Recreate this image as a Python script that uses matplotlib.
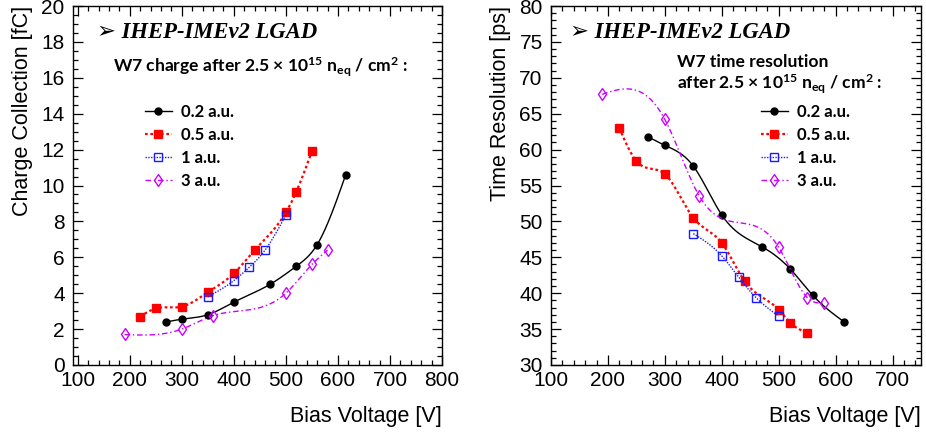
import numpy as np
import matplotlib
matplotlib.use('Agg')
import matplotlib.pyplot as plt
from matplotlib.ticker import MultipleLocator

plt.rcParams['font.family'] = ['Liberation Sans', 'DejaVu Sans']
plt.rcParams['mathtext.fontset'] = 'custom'
plt.rcParams['mathtext.rm'] = 'Lato:bold'
plt.rcParams['mathtext.it'] = 'Lato:bold'
plt.rcParams['mathtext.bf'] = 'Lato:bold'

# --- data ---
labels = ['0.2 a.u.', '0.5 a.u.', '1 a.u.', '3 a.u.']

v_02 = [270, 300, 350, 400, 470, 520, 560, 615]
v_05 = [220, 250, 300, 350, 400, 440, 500, 520, 550]
v_1 = [350, 400, 430, 460, 500]
v_3 = [190, 300, 360, 500, 550, 580]

q_02 = [2.4, 2.55, 2.8, 3.5, 4.5, 5.5, 6.7, 10.6]
q_05 = [2.7, 3.15, 3.25, 4.05, 5.1, 6.4, 8.5, 9.65, 11.9]
q_1 = [3.8, 4.7, 5.45, 6.4, 8.35]
q_3 = [1.7, 2.0, 2.75, 4.0, 5.6, 6.4]

t_02 = [61.8, 60.6, 57.7, 50.9, 46.5, 43.4, 39.7, 36.0]
t_05 = [63.0, 58.4, 56.6, 50.5, 47.0, 41.7, 37.7, 35.9, 34.5]
t_1 = [48.3, 45.2, 42.2, 39.4, 36.8]
t_3 = [67.7, 64.2, 53.6, 46.4, 39.4, 38.6]

# styles per series
styles = [
    dict(color='black', ls='-', marker='o', ms=5, mfc='black', lw=1.0),
    dict(color='#ff0000', ls=(0, (1.2, 1.2)), marker='s', ms=6, mfc='#ff0000', lw=1.6),
    dict(color='#1a1aff', ls=(0, (1, 1)), marker='s', ms=6, mfc='none', lw=1.0),
    dict(color='#cc00ff', ls=(0, (4, 2, 1, 2)), marker='d', ms=6.5, mfc='none', lw=1.0),
]


def spline(x, y, n=300):
    # natural cubic spline, mimics the smooth ROOT "C" curves
    x = np.asarray(x, float)
    y = np.asarray(y, float)
    k = len(x)
    h = np.diff(x)
    A = np.zeros((k, k))
    b = np.zeros(k)
    A[0, 0] = A[-1, -1] = 1
    for i in range(1, k - 1):
        A[i, i - 1] = h[i - 1]
        A[i, i] = 2 * (h[i - 1] + h[i])
        A[i, i + 1] = h[i]
        b[i] = 6 * ((y[i + 1] - y[i]) / h[i] - (y[i] - y[i - 1]) / h[i - 1])
    M = np.linalg.solve(A, b)
    xs = np.linspace(x[0], x[-1], n)
    idx = np.clip(np.searchsorted(x, xs) - 1, 0, k - 2)
    x0, x1, hh = x[idx], x[idx + 1], h[idx]
    ys = (M[idx] * (x1 - xs) ** 3 / (6 * hh) + M[idx + 1] * (xs - x0) ** 3 / (6 * hh)
          + (y[idx] / hh - M[idx] * hh / 6) * (x1 - xs)
          + (y[idx + 1] / hh - M[idx + 1] * hh / 6) * (xs - x0))
    return xs, ys


def draw(ax, series):
    handles = []
    for (x, y), st, lab in zip(series, styles, labels):
        xs, ys = spline(x, y)
        ax.plot(xs, ys, color=st['color'], ls=st['ls'], lw=st['lw'])
        ax.plot(x, y, ls='none', marker=st['marker'], ms=st['ms'],
                mfc=st['mfc'], mec=st['color'], mew=1.0)
        h, = ax.plot([], [], color=st['color'], ls=st['ls'], lw=st['lw'],
                     marker=st['marker'], ms=st['ms'], mfc=st['mfc'],
                     mec=st['color'], mew=1.0)
        handles.append(h)
    return handles


def style_axes(ax, xmaj, xmin, ymaj, ymin):
    ax.xaxis.set_major_locator(MultipleLocator(xmaj))
    ax.xaxis.set_minor_locator(MultipleLocator(xmin))
    ax.yaxis.set_major_locator(MultipleLocator(ymaj))
    ax.yaxis.set_minor_locator(MultipleLocator(ymin))
    ax.tick_params(which='both', direction='in', top=True, right=True,
                   labelsize=15, width=0.9)
    ax.tick_params(which='major', length=7, pad=4)
    ax.tick_params(axis='y', which='major', pad=6)
    ax.tick_params(which='minor', length=3.6)
    for s in ax.spines.values():
        s.set_linewidth(1.0)


fig = plt.figure(figsize=(9.26, 4.34), dpi=100)
W, H = 926, 434
ax1 = fig.add_axes([73 / W, 1 - 365 / H, 369 / W, 359 / H])
ax2 = fig.add_axes([551 / W, 1 - 365 / H, 370 / W, 359 / H])

leg_kw = dict(loc='upper left', frameon=False,
              prop=dict(family='Lato', weight='bold', size=12),
              handlelength=1.6, handletextpad=0.55, labelspacing=0.42,
              borderpad=0, borderaxespad=0)

# left: charge collection
h1 = draw(ax1, [(v_02, q_02), (v_05, q_05), (v_1, q_1), (v_3, q_3)])
ax1.set_xlim(91, 800)
ax1.set_ylim(0, 20)
style_axes(ax1, 100, 20, 2, 0.5)
ax1.set_xlabel('Bias Voltage [V]', fontsize=15.5, loc='right', labelpad=12)
ax1.set_ylabel('Charge Collection [fC]', fontsize=15.5, loc='top', labelpad=6)

ax1.text(0.065, 0.925, '➢ IHEP-IMEv2 LGAD', transform=ax1.transAxes,
         family=['Liberation Serif', 'DejaVu Sans'], fontsize=16.3,
         fontweight='bold', style='italic', va='center')
ax1.text(0.108, 0.830, r'W7 charge after 2.5 × 10$^{15}$ n$_{eq}$ / cm$^{2}$ :',
         transform=ax1.transAxes, family='Lato', fontweight='bold',
         fontsize=12.6, va='center')
ax1.legend(h1, labels, bbox_to_anchor=(0.195, 0.728), **leg_kw)

# right: time resolution
h2 = draw(ax2, [(v_02, t_02), (v_05, t_05), (v_1, t_1), (v_3, t_3)])
ax2.set_xlim(100, 750)
ax2.set_ylim(30, 80)
style_axes(ax2, 100, 20, 5, 1)
ax2.set_xlabel('Bias Voltage [V]', fontsize=15.5, loc='right', labelpad=12)
ax2.set_ylabel('Time Resolution [ps]', fontsize=15.5, loc='top', labelpad=6)

ax2.text(0.051, 0.925, '➢ IHEP-IMEv2 LGAD', transform=ax2.transAxes,
         family=['Liberation Serif', 'DejaVu Sans'], fontsize=16.3,
         fontweight='bold', style='italic', va='center')
ax2.text(0.341, 0.844, 'W7 time resolution', transform=ax2.transAxes,
         family='Lato', fontweight='bold', fontsize=12.6, va='center')
ax2.text(0.341, 0.783, r'after 2.5 × 10$^{15}$ n$_{eq}$ / cm$^{2}$ :',
         transform=ax2.transAxes, family='Lato', fontweight='bold',
         fontsize=12.6, va='center')
ax2.legend(h2, labels, bbox_to_anchor=(0.568, 0.728), **leg_kw)

fig.savefig('out.png', dpi=100)
